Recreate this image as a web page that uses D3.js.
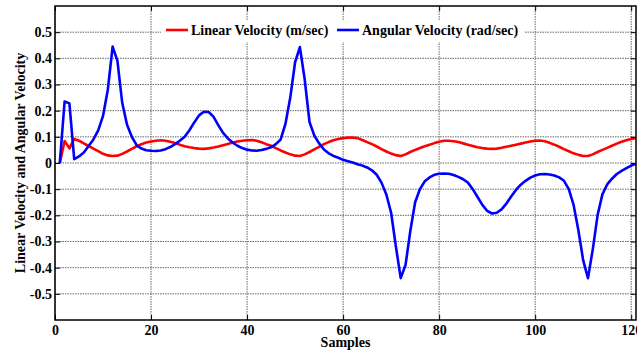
<!DOCTYPE html>
<html><head><meta charset="utf-8">
<script src="https://cdn.jsdelivr.net/npm/d3@7"></script>
<style>body{margin:0;background:#fff}svg{display:block}</style>
</head><body>
<svg id="c" width="637" height="358"></svg>
<script>
const samples = d3.range(1, 122);
const linearVelocity = [0,0.084,0.056,0.092,0.085,0.075,0.065,0.055,0.045,0.035,
0.029,0.027,0.028,0.035,0.044,0.054,0.064,0.072,0.078,0.082,
0.085,0.087,0.085,0.081,0.076,0.07,0.064,0.06,0.057,0.055,
0.054,0.056,0.059,0.063,0.068,0.073,0.078,0.082,0.085,0.087,
0.088,0.085,0.079,0.072,0.066,0.057,0.048,0.04,0.033,0.028,
0.027,0.033,0.042,0.052,0.062,0.072,0.08,0.087,0.092,0.095,
0.097,0.097,0.095,0.088,0.08,0.072,0.063,0.053,0.044,0.036,
0.03,0.027,0.033,0.042,0.05,0.057,0.064,0.07,0.076,0.081,
0.085,0.085,0.083,0.08,0.075,0.07,0.065,0.06,0.057,0.055,
0.054,0.055,0.058,0.062,0.066,0.07,0.074,0.078,0.082,0.085,
0.086,0.083,0.077,0.07,0.062,0.053,0.045,0.037,0.031,0.027,
0.027,0.033,0.042,0.05,0.058,0.066,0.074,0.081,0.087,0.092,0.096];
const angularVelocity = [0,0.235,0.228,0.015,0.025,0.04,0.065,0.09,0.125,0.18,
0.28,0.445,0.39,0.23,0.146,0.1,0.068,0.055,0.049,0.047,
0.046,0.048,0.053,0.061,0.072,0.085,0.1,0.125,0.155,0.182,
0.196,0.195,0.177,0.145,0.115,0.094,0.078,0.066,0.057,0.051,
0.048,0.047,0.05,0.054,0.06,0.072,0.09,0.15,0.25,0.385,
0.443,0.32,0.157,0.105,0.075,0.052,0.037,0.027,0.02,0.012,
0.007,0.002,-0.005,-0.01,-0.017,-0.028,-0.045,-0.075,-0.12,-0.19,
-0.32,-0.44,-0.39,-0.26,-0.15,-0.1,-0.07,-0.055,-0.045,-0.041,
-0.04,-0.041,-0.046,-0.053,-0.062,-0.075,-0.1,-0.13,-0.16,-0.183,
-0.193,-0.19,-0.177,-0.155,-0.128,-0.103,-0.083,-0.068,-0.056,-0.048,
-0.043,-0.042,-0.044,-0.048,-0.055,-0.068,-0.1,-0.16,-0.257,-0.372,
-0.44,-0.33,-0.2,-0.12,-0.082,-0.06,-0.042,-0.03,-0.02,-0.01,-0.003];
const xTicks = [0,20,40,60,80,100,120];
const yTicks = [-0.5,-0.4,-0.3,-0.2,-0.1,0,0.1,0.2,0.3,0.4,0.5];
const yTickLabels = ["-0.5","-0.4","-0.3","-0.2","-0.1","0","0.1","0.2","0.3","0.4","0.5"];
const seriesNames = ["Linear Velocity (m/sec)","Angular Velocity (rad/sec)"];
const seriesColors = ["#ff0000","#0000ff"];

const L=55, R=636, T=6, B=320;
const FS = 14;
const svg = d3.select("#c");
const x = d3.scaleLinear().domain([0,121]).range([L,R]);
const y = d3.scaleLinear().domain([-0.6,0.6]).range([B,T]);
const font = "'Liberation Serif','Times New Roman',serif";

// grid
const g = svg.append("g");
g.selectAll("line.gx").data(xTicks).join("line")
  .attr("x1",d=>x(d)).attr("x2",d=>x(d)).attr("y1",T).attr("y2",B)
  .attr("stroke","#666").attr("stroke-width",1).attr("stroke-dasharray","1.5,1");
g.selectAll("line.gy").data(yTicks).join("line")
  .attr("x1",L).attr("x2",R).attr("y1",d=>y(d)).attr("y2",d=>y(d))
  .attr("stroke","#666").attr("stroke-width",1).attr("stroke-dasharray","1.5,1");

// lines
const line = (vals)=>d3.line().x((d,i)=>x(samples[i])).y(d=>y(d))(vals);
[linearVelocity, angularVelocity].forEach((vals,k)=>{
  svg.append("path").attr("d",line(vals)).attr("fill","none")
    .attr("stroke",seriesColors[k]).attr("stroke-width",2.6)
    .attr("stroke-linejoin","round");
});

// axes
const ax = svg.append("g");
const xb = d3.axisBottom(x).tickValues(xTicks).tickSize(-5).tickPadding(5).tickFormat(d3.format("d"));
ax.append("g").attr("transform",`translate(0,${B})`).call(xb);
const xt = d3.axisTop(x).tickValues(xTicks).tickSize(-5).tickFormat("");
ax.append("g").attr("transform",`translate(0,${T})`).call(xt);
const yl = d3.axisLeft(y).tickValues(yTicks).tickSize(-5).tickPadding(3).tickFormat((d,i)=>yTickLabels[i]);
ax.append("g").attr("transform",`translate(${L},0)`).call(yl);
const yr = d3.axisRight(y).tickValues(yTicks).tickSize(-5).tickFormat("");
ax.append("g").attr("transform",`translate(${R},0)`).call(yr);
ax.selectAll(".domain").remove();
ax.selectAll(".tick line").attr("stroke","#000").attr("stroke-width",1);
ax.selectAll("text").attr("fill","#000").attr("font-family",font).attr("font-weight","bold").attr("font-size",FS);
svg.append("rect").attr("x",L).attr("y",T).attr("width",R-L).attr("height",B-T)
  .attr("fill","none").attr("stroke","#000").attr("stroke-width",1.5);

// axis titles
svg.append("text").attr("x",(L+R)/2).attr("y",347).attr("text-anchor","middle")
  .attr("font-family",font).attr("font-weight","bold").attr("font-size",FS).text("Samples");
svg.append("text").attr("transform",`translate(25,${(T+B)/2}) rotate(-90)`).attr("text-anchor","middle")
  .attr("font-family",font).attr("font-weight","bold").attr("font-size",FS)
  .text("Linear Velocity and Angular Velocity");

// legend
const lg = svg.append("g");
lg.append("rect").attr("x",161).attr("y",20).attr("width",364).attr("height",22).attr("fill","#fff");
const legendX = [166, 337];
seriesNames.forEach((n,k)=>{
  lg.append("line").attr("x1",legendX[k]).attr("x2",legendX[k]+22).attr("y1",30).attr("y2",30)
    .attr("stroke",seriesColors[k]).attr("stroke-width",2.6);
  lg.append("text").attr("x",legendX[k]+25).attr("y",35)
    .attr("font-family",font).attr("font-weight","bold").attr("font-size",FS).text(n);
});
</script>
</body></html>
